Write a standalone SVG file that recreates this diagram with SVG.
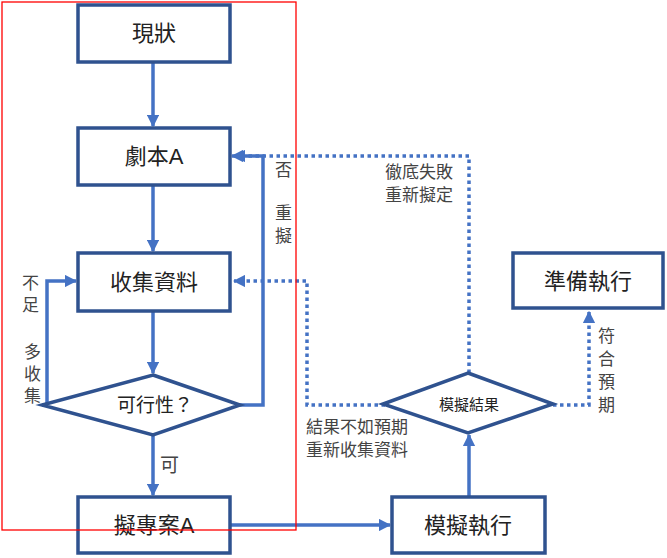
<svg xmlns="http://www.w3.org/2000/svg" width="667" height="558" viewBox="0 0 667 558">
<style>
.box{fill:#fff;stroke:#2F528F;stroke-width:3.5}
.t{font-family:"Liberation Sans","Noto Sans CJK TC",sans-serif;fill:#222}
.big{font-size:22px;text-anchor:middle}
.lbl{font-size:17px;fill:#444}
.ln{fill:none;stroke:#4472C4;stroke-width:3.5}
.dot{fill:none;stroke:#4472C4;stroke-width:3.5;stroke-dasharray:3.5 3.5}
</style>
<defs>
<marker id="a" viewBox="0 0 10 10" refX="9" refY="5" markerWidth="3.5" markerHeight="3.5" orient="auto"><path d="M0,0L10,5L0,10z" fill="#4472C4"/></marker>
</defs>
<g id="connectors">
<path class="ln" d="M153,62V126" marker-end="url(#a)"/>
<path class="ln" d="M153,185V251" marker-end="url(#a)"/>
<path class="ln" d="M153,312V373" marker-end="url(#a)"/>
<path class="ln" d="M153,435V495" marker-end="url(#a)"/>
<path class="ln" d="M42,405H47V281H76" marker-end="url(#a)"/>
<path class="ln" d="M240,405H263V156H232" marker-end="url(#a)"/>
<path class="ln" d="M230,525H390" marker-end="url(#a)"/>
<path class="ln" d="M469,497V435" marker-end="url(#a)"/>
<path class="dot" d="M385,405H307V281H234" marker-end="url(#a)"/>
<path class="dot" d="M469,373V156H234" marker-end="url(#a)"/>
<path class="dot" d="M553,405H589V312" marker-end="url(#a)"/>
</g>
<g id="n1"><rect class="box" x="78" y="5" width="152" height="57"/><text class="t big" x="154" y="41">現狀</text></g>
<g id="n2"><rect class="box" x="78" y="128" width="152" height="57"/><text class="t big" x="154" y="164">劇本A</text></g>
<g id="n3"><rect class="box" x="78" y="253" width="152" height="58"/><text class="t big" x="154" y="290">收集資料</text></g>
<g id="n4"><path class="box" d="M153,375L240,405L153,435L42,405z"/><text class="t" x="155" y="412" font-size="19" text-anchor="middle">可行性？</text></g>
<g id="n5"><rect class="box" x="78" y="497" width="152" height="56"/><text class="t big" x="154" y="533">擬專案A</text></g>
<g id="n6"><rect class="box" x="392" y="497" width="153" height="56"/><text class="t big" x="468" y="533">模擬執行</text></g>
<g id="n7"><path class="box" d="M468,373L553,404L468,433L383,404z"/><text class="t" x="469" y="410" font-size="15" text-anchor="middle">模擬結果</text></g>
<g id="n8"><rect class="box" x="513" y="253" width="150" height="55"/><text class="t big" x="588" y="289">準備執行</text></g>
<g id="labels" class="t lbl">
<text x="275" y="176">否</text>
<text x="275" y="219">重</text>
<text x="275" y="242">擬</text>
<text x="22" y="289">不</text>
<text x="22" y="311">足</text>
<text x="24" y="358">多</text>
<text x="24" y="380">收</text>
<text x="24" y="402">集</text>
<text x="160" y="472" font-size="19">可</text>
<text x="385" y="178">徹底失敗</text>
<text x="385" y="201">重新擬定</text>
<text x="306" y="433">結果不如預期</text>
<text x="306" y="456">重新收集資料</text>
<text x="598" y="342">符</text>
<text x="598" y="365">合</text>
<text x="598" y="388">預</text>
<text x="598" y="411">期</text>
</g>
<rect x="2" y="2" width="294" height="528" fill="none" stroke="#FF0000" stroke-width="1.3"/>
</svg>
